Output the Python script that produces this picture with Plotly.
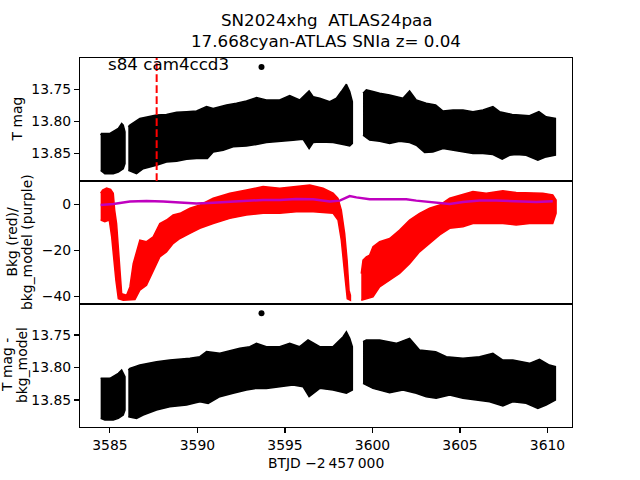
import plotly.graph_objects as go

# ---------------- data ----------------
X_TICKS = [3585, 3590, 3595, 3600, 3605, 3610]
X_RANGE = [3583.29, 3611.40]
MAG_TICKS = [13.75, 13.80, 13.85]
MAG_TICKTEXT = ["13.75", "13.80", "13.85"]
BKG_TICKS = [0, -20, -40]
BKG_TICKTEXT = ["0", "\u221220", "\u221240"]
TOP_RANGE = [13.893, 13.7006]
MID_RANGE = [-43.2, 10.1]
BOT_RANGE = [13.8915, 13.7023]
DASH_T = 3587.67
LABEL_T = 3584.77

# --- top panel: T mag, envelope of the dense black band ---
T1_t_hi = [3584.47, 3584.52, 3585.00, 3585.48, 3585.67, 3585.76, 3585.86]
T1_hi = [13.8213, 13.8187, 13.8187, 13.8108, 13.8029, 13.8056, 13.8160]
T1_t_lo = [3584.47, 3584.71, 3585.19, 3585.48, 3585.76, 3585.86]
T1_lo = [13.8763, 13.8816, 13.8816, 13.8789, 13.8737, 13.8660]

T2_t_hi = [3586.05, 3586.14, 3586.71, 3587.09, 3587.66, 3588.23, 3588.81, 3589.38, 3589.95, 3590.52,
           3590.90, 3591.28, 3591.66, 3592.23, 3592.80, 3593.37, 3593.94, 3594.70, 3595.27, 3595.84,
           3596.38, 3596.61, 3596.99, 3597.56, 3597.94, 3598.22, 3598.51, 3598.70, 3598.85]
T2_hi = [13.8082, 13.8056, 13.7951, 13.7925, 13.7898, 13.7888, 13.7856, 13.7846, 13.7835, 13.7767,
         13.7794, 13.7767, 13.7741, 13.7715, 13.7678, 13.7626, 13.7662, 13.7662, 13.7594, 13.7662,
         13.7521, 13.7610, 13.7636, 13.7689, 13.7636, 13.7531, 13.7416, 13.7531, 13.7689]
T2_t_lo = [3586.05, 3586.52, 3586.90, 3587.28, 3587.66, 3588.23, 3588.81, 3589.38, 3589.95, 3590.57,
           3590.90, 3591.47, 3592.04, 3592.80, 3593.37, 3593.94, 3594.70, 3595.46, 3596.03, 3596.38,
           3596.61, 3596.99, 3597.75, 3598.32, 3598.70, 3598.85]
T2_lo = [13.8763, 13.8816, 13.8737, 13.8711, 13.8684, 13.8632, 13.8622, 13.8590, 13.8580, 13.8580,
         13.8475, 13.8449, 13.8396, 13.8381, 13.8360, 13.8328, 13.8307, 13.8291, 13.8276, 13.8422,
         13.8328, 13.8318, 13.8328, 13.8360, 13.8381, 13.8344]

T3_t_hi = [3599.46, 3599.65, 3600.03, 3600.41, 3600.98, 3601.36, 3601.74, 3602.12, 3602.50, 3603.07,
           3603.61, 3604.03, 3604.60, 3605.17, 3605.74, 3606.31, 3606.88, 3607.26, 3607.64, 3607.98,
           3608.40, 3608.97, 3609.51, 3609.92, 3610.45]
T3_hi = [13.7558, 13.7505, 13.7531, 13.7558, 13.7584, 13.7610, 13.7636, 13.7521, 13.7662, 13.7715,
         13.7741, 13.7835, 13.7820, 13.7820, 13.7846, 13.7820, 13.7767, 13.7846, 13.7872, 13.7888,
         13.7898, 13.7909, 13.7846, 13.7925, 13.7951]
T3_t_lo = [3599.46, 3599.84, 3600.41, 3600.98, 3601.55, 3602.12, 3602.50, 3602.98, 3603.45, 3604.03,
           3604.60, 3605.17, 3605.74, 3606.31, 3606.88, 3607.41, 3607.83, 3608.21, 3608.78, 3609.45,
           3609.92, 3610.45]
T3_lo = [13.8213, 13.8291, 13.8307, 13.8344, 13.8307, 13.8328, 13.8370, 13.8485, 13.8475, 13.8422,
         13.8449, 13.8475, 13.8501, 13.8501, 13.8517, 13.8590, 13.8527, 13.8517, 13.8527, 13.8606,
         13.8553, 13.8527]

TOP_OUT_T = [3593.66]
TOP_OUT_V = [13.7145]

# --- middle panel: background (red) envelope and bkg model (purple) ---
R1_t_hi = [3584.47, 3584.58, 3584.81, 3585.04, 3585.19, 3585.27, 3585.38, 3585.48, 3585.57, 3585.67,
           3585.95, 3586.14, 3586.33, 3586.52, 3586.71, 3587.09, 3587.47, 3587.85, 3588.23, 3588.61,
           3589.00, 3589.57, 3590.14, 3590.90, 3591.85, 3592.80, 3593.75, 3594.70, 3595.65, 3596.42,
           3597.18, 3597.75, 3598.03, 3598.22, 3598.41, 3598.55, 3598.66, 3598.74]
R1_hi = [4.8, 6.2, 7.0, 6.5, 4.8, -2.5, -8.3, -18.4, -30.0, -38.7,
         -39.4, -35.8, -25.7, -20.6, -15.5, -16.2, -14.1, -8.3, -6.8, -4.6,
         -3.9, -1.7, -0.3, 2.6, 4.8, 6.2, 7.7, 7.0, 7.7, 8.4,
         7.0, 4.8, 2.6, -2.5, -12.6, -24.2, -37.2, -39.4]
R1_t_lo = [3584.47, 3584.71, 3584.96, 3585.10, 3585.23, 3585.34, 3585.48, 3585.76, 3586.43, 3586.71,
           3587.09, 3587.47, 3587.85, 3588.23, 3588.61, 3589.00, 3589.57, 3590.14, 3590.90, 3591.85,
           3592.80, 3593.75, 3594.70, 3595.65, 3596.61, 3597.75, 3598.03, 3598.22, 3598.41, 3598.56,
           3598.74]
R1_lo = [-6.8, -7.5, -6.8, -14.1, -22.8, -32.9, -40.9, -41.6, -41.3, -37.2,
         -35.1, -28.6, -22.8, -20.6, -17.0, -14.8, -12.6, -10.4, -8.3, -6.1,
         -4.6, -3.9, -3.9, -3.2, -3.2, -3.9, -6.8, -15.5, -30.0, -40.9,
         -41.6]

R2_t_hi = [3599.36, 3599.46, 3599.65, 3599.84, 3600.03, 3600.41, 3600.98, 3601.55, 3602.12, 3602.69,
           3603.26, 3603.84, 3604.41, 3605.17, 3605.74, 3606.50, 3607.45, 3608.21, 3608.97, 3609.73,
           3610.30, 3610.49]
R2_hi = [-30.0, -24.2, -22.8, -22.0, -18.4, -16.2, -14.8, -11.2, -6.8, -3.9,
         -1.7, -0.3, 2.6, 4.1, 5.5, 4.8, 5.9, 5.1, 4.8, 4.8,
         4.1, 1.9]
R2_t_lo = [3599.36, 3600.03, 3600.41, 3600.98, 3601.55, 3602.12, 3602.69, 3603.26, 3603.84, 3604.41,
           3605.17, 3605.74, 3606.50, 3607.45, 3608.21, 3608.97, 3609.73, 3610.30, 3610.49]
R2_lo = [-41.6, -40.1, -35.8, -32.9, -30.0, -25.7, -20.6, -17.0, -13.3, -10.4,
         -9.7, -8.3, -8.3, -8.3, -9.0, -8.3, -8.3, -8.3, -3.9]

P_t = [3584.47, 3585.19, 3586.14, 3587.09, 3588.04, 3589.00, 3589.95, 3590.90, 3591.85, 3592.80,
       3593.75, 3594.70, 3595.65, 3596.61, 3597.56, 3598.13, 3598.70, 3599.08, 3599.84, 3600.98,
       3601.93, 3602.50, 3603.26, 3604.03, 3604.41, 3605.17, 3606.12, 3607.07, 3608.21, 3609.35,
       3610.30]
P_v = [-0.3, 0.1, 1.2, 1.4, 1.2, 0.7, 0.4, 0.7, 1.2, 1.4,
       1.9, 1.9, 2.3, 2.2, 1.2, 1.6, 3.6, 3.0, 2.2, 2.2,
       2.2, 1.6, 1.0, 0.1, 0.1, 1.0, 1.6, 1.6, 1.2, 1.0,
       1.3]

# --- bottom panel: T mag - bkg_model ---
B1_t_hi = [3584.47, 3585.00, 3585.48, 3585.67, 3585.86]
B1_hi = [13.8167, 13.8167, 13.8090, 13.8038, 13.8141]
B1_t_lo = [3584.47, 3584.71, 3585.19, 3585.48, 3585.76, 3585.86]
B1_lo = [13.8782, 13.8808, 13.8808, 13.8782, 13.8731, 13.8654]

B2_t_hi = [3586.05, 3586.14, 3586.71, 3587.66, 3588.42, 3589.57, 3590.14, 3590.52, 3591.28, 3592.42,
           3592.99, 3593.37, 3593.94, 3594.70, 3595.27, 3595.84, 3596.32, 3596.99, 3597.75, 3598.32,
           3598.51, 3598.70, 3598.85]
B2_hi = [13.8038, 13.8013, 13.7962, 13.7910, 13.7885, 13.7859, 13.7833, 13.7756, 13.7782, 13.7705,
         13.7679, 13.7628, 13.7679, 13.7679, 13.7628, 13.7679, 13.7577, 13.7679, 13.7679, 13.7526,
         13.7449, 13.7551, 13.7679]
B2_t_lo = [3586.05, 3586.52, 3586.90, 3587.66, 3588.42, 3589.38, 3590.14, 3590.61, 3591.28, 3592.04,
           3592.80, 3593.37, 3593.94, 3594.70, 3595.46, 3596.03, 3596.38, 3596.99, 3597.75, 3598.51,
           3598.85]
B2_lo = [13.8756, 13.8782, 13.8731, 13.8654, 13.8603, 13.8577, 13.8526, 13.8551, 13.8449, 13.8397,
         13.8346, 13.8321, 13.8321, 13.8295, 13.8269, 13.8295, 13.8449, 13.8321, 13.8346, 13.8397,
         13.8346]

B3_t_hi = [3599.46, 3599.65, 3600.41, 3601.36, 3602.12, 3602.69, 3603.61, 3604.22, 3605.17, 3606.12,
           3606.88, 3607.45, 3608.02, 3608.97, 3609.54, 3610.11, 3610.45]
B3_hi = [13.7603, 13.7577, 13.7577, 13.7628, 13.7551, 13.7731, 13.7756, 13.7833, 13.7859, 13.7833,
         13.7782, 13.7885, 13.7885, 13.7936, 13.7874, 13.7962, 13.7987]
B3_t_lo = [3599.46, 3600.03, 3600.98, 3601.74, 3602.50, 3603.07, 3603.64, 3604.41, 3605.17, 3605.93,
           3606.69, 3607.45, 3608.02, 3608.78, 3609.45, 3609.92, 3610.45]
B3_lo = [13.8244, 13.8321, 13.8387, 13.8346, 13.8397, 13.8449, 13.8474, 13.8423, 13.8474, 13.8500,
         13.8526, 13.8592, 13.8526, 13.8551, 13.8628, 13.8577, 13.8500]

BOT_OUT_T = [3593.66]
BOT_OUT_V = [13.7167]

TITLE_1 = "SN2024xhg\u00a0\u00a0ATLAS24paa"
TITLE_2 = "17.668cyan-ATLAS SNIa z= 0.04"
FIELD_LABEL = "s84 cam4ccd3"
X_LABEL = "BTJD \u22122\u2009457\u2009000"

# ---------------- figure ----------------
FONT = "DejaVu Sans"
fig = go.Figure()


def band(th, h, tl, l, xa, ya, color):
    xs = list(th) + list(tl)[::-1]
    ys = list(h) + list(l)[::-1]
    fig.add_trace(go.Scatter(x=xs, y=ys, mode="lines", fill="toself", fillcolor=color,
                             line=dict(color=color, width=1.5), xaxis=xa, yaxis=ya,
                             hoverinfo="skip", showlegend=False))


for th, h, tl, l in [(T1_t_hi, T1_hi, T1_t_lo, T1_lo), (T2_t_hi, T2_hi, T2_t_lo, T2_lo),
                     (T3_t_hi, T3_hi, T3_t_lo, T3_lo)]:
    band(th, h, tl, l, "x", "y", "black")
fig.add_trace(go.Scatter(x=TOP_OUT_T, y=TOP_OUT_V, mode="markers", xaxis="x", yaxis="y",
                         marker=dict(color="black", size=6), showlegend=False))

for th, h, tl, l in [(R1_t_hi, R1_hi, R1_t_lo, R1_lo), (R2_t_hi, R2_hi, R2_t_lo, R2_lo)]:
    band(th, h, tl, l, "x2", "y2", "#ff0000")
fig.add_trace(go.Scatter(x=P_t, y=P_v, mode="lines", xaxis="x2", yaxis="y2",
                         line=dict(color="#bf00bf", width=2.5), showlegend=False))

for th, h, tl, l in [(B1_t_hi, B1_hi, B1_t_lo, B1_lo), (B2_t_hi, B2_hi, B2_t_lo, B2_lo),
                     (B3_t_hi, B3_hi, B3_t_lo, B3_lo)]:
    band(th, h, tl, l, "x3", "y3", "black")
fig.add_trace(go.Scatter(x=BOT_OUT_T, y=BOT_OUT_V, mode="markers", xaxis="x3", yaxis="y3",
                         marker=dict(color="black", size=6), showlegend=False))

fig.add_shape(type="line", xref="x", yref="y domain", x0=DASH_T, x1=DASH_T, y0=0, y1=1,
              line=dict(color="red", width=2, dash="7.7px,3.3px"))

axis_common = dict(showline=True, mirror=True, linecolor="black", linewidth=1.1,
                   showgrid=False, zeroline=False,
                   tickfont=dict(family=FONT, size=13.9, color="black"))

fig.update_layout(
    width=640, height=480,
    margin=dict(l=80, r=68, t=58, b=53),
    paper_bgcolor="white", plot_bgcolor="white",
    font=dict(family=FONT, color="black"),
    hovermode=False,
    xaxis=dict(domain=[0, 1], anchor="y", range=X_RANGE, showticklabels=False, ticks="", **axis_common),
    xaxis2=dict(domain=[0, 1], anchor="y2", range=X_RANGE, showticklabels=False, ticks="", **axis_common),
    xaxis3=dict(domain=[0, 1], anchor="y3", range=X_RANGE, tickvals=X_TICKS, ticks="outside",
                ticklen=5, tickwidth=1.1, tickcolor="black", **axis_common),
    yaxis=dict(domain=[2 / 3, 1], anchor="x", range=TOP_RANGE, tickvals=MAG_TICKS, ticktext=MAG_TICKTEXT,
               ticks="outside", ticklen=5, tickwidth=1.1, tickcolor="black", **axis_common),
    yaxis2=dict(domain=[1 / 3, 2 / 3], anchor="x2", range=MID_RANGE, tickvals=BKG_TICKS, ticktext=BKG_TICKTEXT,
                ticks="outside", ticklen=5, tickwidth=1.1, tickcolor="black", **axis_common),
    yaxis3=dict(domain=[0, 1 / 3], anchor="x3", range=BOT_RANGE, tickvals=MAG_TICKS, ticktext=MAG_TICKTEXT,
                ticks="outside", ticklen=5, tickwidth=1.1, tickcolor="black", **axis_common),
)

ann = []
ann.append(dict(text=TITLE_1, xref="paper", yref="paper", x=0.5, y=1.103, xanchor="center",
                yanchor="middle", showarrow=False, font=dict(family=FONT, size=16.7)))
ann.append(dict(text=TITLE_2, xref="paper", yref="paper", x=0.5, y=1.046, xanchor="center",
                yanchor="middle", showarrow=False, font=dict(family=FONT, size=16.7)))
ann.append(dict(text=FIELD_LABEL, xref="x", yref="paper", x=LABEL_T, y=1.016, xanchor="left",
                yanchor="top", showarrow=False, font=dict(family=FONT, size=16.7)))
ann.append(dict(text=X_LABEL, xref="paper", yref="paper", x=0.5, y=-0.0976, xanchor="center",
                yanchor="middle", showarrow=False, font=dict(family=FONT, size=13.9)))


def ylab(text, px, py):
    ann.append(dict(text=text, xref="paper", yref="paper", x=(px - 80) / 492, y=(427 - py) / 369,
                    xanchor="center", yanchor="middle", textangle=-90, showarrow=False,
                    font=dict(family=FONT, size=13.9)))


ylab("T mag", 17, 119.5)
ylab("Bkg (red)/", 11.5, 242)
ylab("bkg_model (purple)", 27, 242)
ylab("T mag -", 7, 365)
ylab("bkg_model", 22, 365)

fig.update_layout(annotations=ann)
fig.write_html("out.html", config={"displayModeBar": False, "staticPlot": True},
               post_script="document.body.style.margin='0';document.body.style.padding='0';")
